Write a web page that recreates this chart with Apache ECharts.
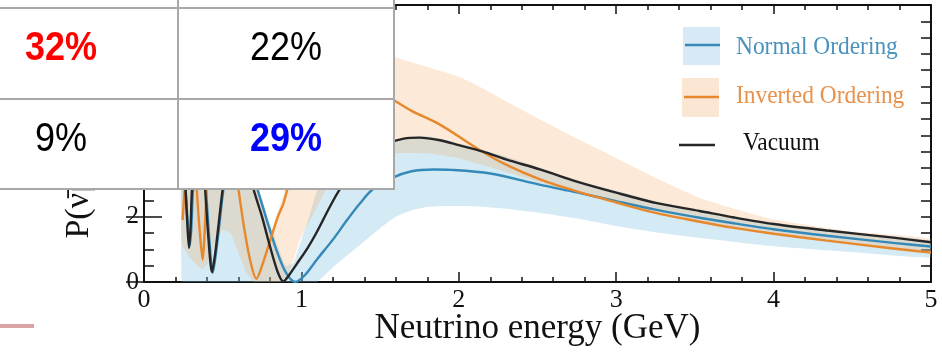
<!DOCTYPE html>
<html>
<head>
<meta charset="utf-8">
<script src="https://cdn.jsdelivr.net/npm/echarts@6/dist/echarts.min.js"></script>
<style>
html, body { margin: 0; padding: 0; background: #ffffff; }
#chart { width: 942px; height: 352px; }
</style>
</head>
<body>
<div id="chart"></div>
<script>
// Appearance probability versus neutrino energy (P in %)

// Vacuum oscillation curve
const vacuumE = [0.25, 0.262, 0.274, 0.286, 0.296, 0.305, 0.325, 0.345, 0.365, 0.388, 0.41, 0.432,
  0.45, 0.47, 0.50, 0.53, 0.57, 0.61, 0.65, 0.695, 0.75, 0.80, 0.85, 0.885,
  0.92, 0.97, 1.04, 1.1, 1.18, 1.245, 1.35, 1.45, 1.55, 1.65, 1.75, 1.88,
  2.0, 2.155, 2.3, 2.52, 2.75, 3.0, 3.25, 3.53, 3.75, 4.0, 4.34, 4.76, 5.0];
const vacuumP = [4.0, 3.0, 1.9, 1.05, 1.7, 2.86, 4.0, 4.4, 4.0, 2.86, 1.3, 0.31,
  0.8, 1.6, 2.86, 3.8, 4.4, 4.4, 3.8, 2.86, 2.0, 1.1, 0.3, 0.02,
  0.2, 0.55, 1.05, 1.55, 2.3, 2.85, 3.5, 3.95, 4.25, 4.4, 4.43, 4.35,
  4.2, 4.0, 3.76, 3.45, 3.08, 2.74, 2.43, 2.18, 1.98, 1.78, 1.58, 1.36, 1.22];

// Normal ordering, central curve
const normalE = [0.25, 0.265, 0.278, 0.29, 0.30, 0.31, 0.33, 0.35, 0.37, 0.393, 0.415, 0.437,
  0.455, 0.475, 0.505, 0.54, 0.58, 0.62, 0.67, 0.72, 0.78, 0.84, 0.90, 0.96,
  1.02, 1.1, 1.2, 1.29, 1.37, 1.45, 1.58, 1.7, 1.84, 1.95, 2.2, 2.52,
  2.75, 3.0, 3.25, 3.53, 3.75, 4.0, 4.34, 4.76, 5.0];
const normalP = [3.6, 2.8, 1.8, 1.1, 1.6, 2.7, 3.9, 4.3, 3.9, 2.86, 1.3, 0.28,
  0.8, 1.6, 2.86, 3.8, 4.3, 4.2, 3.6, 2.86, 1.9, 1.0, 0.3, 0.0,
  0.2, 0.7, 1.3, 1.9, 2.4, 2.83, 3.2, 3.4, 3.45, 3.44, 3.33, 2.98,
  2.75, 2.48, 2.22, 1.97, 1.8, 1.62, 1.42, 1.2, 1.09];

// Inverted ordering, central curve
const invertedE = [0.245, 0.255, 0.265, 0.28, 0.30, 0.32, 0.335, 0.355, 0.373, 0.386, 0.398, 0.42,
  0.45, 0.49, 0.53, 0.57, 0.60, 0.64, 0.68, 0.714, 0.75, 0.80, 0.85, 0.885,
  0.91, 0.96, 1.05, 1.15, 1.25, 1.35, 1.45, 1.58, 1.7, 1.88, 2.13, 2.3,
  2.52, 2.75, 3.0, 3.25, 3.53, 3.75, 4.0, 4.34, 4.76, 5.0];
const invertedP = [1.9, 2.6, 3.5, 4.6, 5.2, 4.3, 2.86, 1.5, 0.68, 1.6, 2.86, 4.5,
  5.6, 5.8, 5.3, 4.0, 2.86, 1.55, 0.55, 0.1, 0.5, 1.25, 2.0, 2.4,
  2.83, 3.7, 4.9, 5.7, 6.1, 6.2, 6.0, 5.6, 5.25, 4.83, 4.06, 3.6,
  3.14, 2.78, 2.44, 2.12, 1.85, 1.66, 1.48, 1.27, 1.03, 0.9];

// Normal ordering uncertainty band
const normalBandE = [0.24, 0.30, 0.40, 0.50, 0.60, 0.64, 0.68, 0.72, 0.76, 0.80, 0.85, 0.90,
  0.95, 1.0, 1.05, 1.1, 1.2, 1.3, 1.4, 1.5, 1.6, 1.7, 1.8, 1.9,
  2.1, 2.3, 2.52, 2.75, 3.0, 3.25, 3.5, 3.75, 4.0, 4.5, 5.0];
const normalBandLow = [0, 0, 0, 0, 0, 0, 0, 0, 0, 0, 0, 0,
  0, 0, 0, 0, 0.45, 0.85, 1.25, 1.65, 2.0, 2.2, 2.3, 2.33,
  2.32, 2.25, 2.12, 1.95, 1.72, 1.53, 1.37, 1.23, 1.1, 0.92, 0.76];
const normalBandHigh = [8.5, 8.5, 8.5, 8.5, 8.5, 8.5, 4.5, 3.0, 2.4, 1.8, 1.1, 0.5,
  0.6, 1.3, 2.0, 2.8, 3.4, 3.75, 4.0, 4.2, 4.35, 4.45, 4.47, 4.38,
  4.12, 3.85, 3.5, 3.12, 2.8, 2.48, 2.22, 2.0, 1.82, 1.52, 1.26];

// Inverted ordering uncertainty band
const invertedBandE = [0.24, 0.30, 0.37, 0.41, 0.45, 0.50, 0.55, 0.60, 0.65, 0.70, 0.74, 0.77,
  0.80, 0.83, 0.86, 0.88, 0.91, 0.95, 1.0, 1.1, 1.16, 1.27, 1.4, 1.58,
  1.8, 2.0, 2.13, 2.3, 2.52, 2.75, 3.0, 3.25, 3.53, 3.75, 4.0, 4.5, 5.0];
const invertedBandLow = [1.2, 0.7, 0.4, 0.6, 1.2, 1.6, 1.5, 0.9, 0.3, 0.0, 0.0, 0.0,
  0.0, 0.0, 0.0, 0.0, 0.2, 0.7, 1.4, 2.3, 2.86, 3.3, 3.7, 3.95,
  3.95, 3.8, 3.62, 3.38, 3.05, 2.72, 2.4, 2.1, 1.82, 1.64, 1.45, 1.15, 0.88];
const invertedBandHigh = [8.5, 8.5, 8.5, 8.5, 8.5, 8.5, 8.5, 8.5, 8.5, 3.3, 2.5, 1.9,
  1.45, 1.85, 2.3, 2.6, 3.1, 8.5, 8.5, 8.5, 8.5, 8.5, 8.0, 6.95,
  6.6, 6.3, 6.0, 5.55, 4.98, 4.4, 3.8, 3.2, 2.58, 2.25, 1.92, 1.55, 1.32];

const legendNames = ['Normal Ordering', 'Inverted Ordering', 'Vacuum'];
const tableValues = ['32%', '22%', '9%', '29%'];
const xAxisTitle = 'Neutrino energy (GeV)';
const yAxisTitle = 'P(\u03BD\u0304\u03BC \u2192 \u03BD\u0304e) (%)';

const SERIF = '"Liberation Serif", "Times New Roman", serif';
const SANS = '"Liberation Sans", Arial, sans-serif';
const INK = '#111111';

function pairs(xs, ys) {
  return xs.map(function (x, i) { return [x, ys[i]]; });
}

// A shaded band between a lower and an upper curve, drawn as one polygon
function band(name, xs, lo, hi, fill) {
  return {
    name: name,
    type: 'custom',
    coordinateSystem: 'cartesian2d',
    xAxisIndex: 0,
    yAxisIndex: 0,
    clip: true,
    silent: true,
    z: 1,
    encode: { x: 0, y: [1, 2] },
    data: xs.map(function (x, i) { return [x, lo[i], hi[i]]; }),
    renderItem: function (params, api) {
      if (params.dataIndexInside !== 0) return null;
      const n = params.dataInsideLength;
      const top = [], bottom = [];
      for (let i = 0; i < n; i++) {
        top.push(api.coord([api.value(0, i), api.value(2, i)]));
        bottom.push(api.coord([api.value(0, i), api.value(1, i)]));
      }
      return {
        type: 'polygon',
        shape: { points: top.concat(bottom.reverse()), smooth: 0.15 },
        style: { fill: fill }
      };
    }
  };
}

function curve(name, xs, ys, color) {
  return {
    name: name,
    type: 'line',
    xAxisIndex: 0,
    yAxisIndex: 0,
    data: pairs(xs, ys),
    smooth: 0.3,
    showSymbol: false,
    symbol: 'none',
    clip: true,
    silent: true,
    z: 3,
    lineStyle: { color: color, width: 2.4 }
  };
}

function frameAxis(extra) {
  const base = {
    type: 'value',
    splitLine: { show: false },
    axisLine: { show: true, onZero: false, lineStyle: { color: INK, width: 2 } },
    axisLabel: { show: false }
  };
  return Object.assign(base, extra);
}

function cellText(text, x, y, color, weight) {
  return {
    type: 'text', x: x, y: y, scaleX: 0.9, z: 102,
    style: {
      text: text, fill: color,
      font: weight + ' 40px ' + SANS,
      textAlign: 'center', textVerticalAlign: 'middle',
      align: 'center', verticalAlign: 'middle'
    }
  };
}

function legendText(text, x, y, color) {
  return {
    type: 'text', x: x, y: y, scaleX: 0.9, z: 102,
    style: {
      text: text, fill: color,
      font: '26px ' + SERIF,
      textAlign: 'left', textVerticalAlign: 'middle',
      align: 'left', verticalAlign: 'middle'
    }
  };
}

function hLine(x1, x2, y, color, w) {
  return { type: 'line', z: 101, shape: { x1: x1, y1: y, x2: x2, y2: y }, style: { stroke: color, lineWidth: w } };
}
function vLine(x, y1, y2, color, w) {
  return { type: 'line', z: 101, shape: { x1: x, y1: y1, x2: x, y2: y2 }, style: { stroke: color, lineWidth: w } };
}

const BLUE_LINE = '#3489b8';
const ORANGE_LINE = '#e8882c';
const BLACK_LINE = '#262626';
const TABLE_RULE = '#a8a8a8';

const chart = echarts.init(document.getElementById('chart'), null, { renderer: 'canvas' });

chart.setOption({
  backgroundColor: '#ffffff',
  animation: false,
  grid: [
    { left: 144, right: 11, top: 5, bottom: 70, containLabel: false, outerBoundsMode: 'none' },
    { left: 144, right: 11, top: 5, bottom: 70, containLabel: false, outerBoundsMode: 'none' }
  ],
  xAxis: [
    frameAxis({
      gridIndex: 0, position: 'bottom', min: 0, max: 5, interval: 1,
      axisTick: { show: true, inside: true, length: 10, lineStyle: { color: INK, width: 1.5 } },
      minorTick: { show: true, splitNumber: 5, length: 5, lineStyle: { color: INK, width: 1.5 } },
      axisLabel: { show: true, margin: 5, color: INK, fontFamily: SERIF, fontSize: 26 },
      name: xAxisTitle, nameLocation: 'middle', nameGap: 29, nameMoveOverlap: false,
      nameTextStyle: { fontFamily: SERIF, fontSize: 35, color: INK }
    }),
    frameAxis({
      gridIndex: 1, position: 'top', min: 0, max: 5, interval: 1,
      axisTick: { show: true, inside: true, length: 9, lineStyle: { color: INK, width: 1.5 } },
      minorTick: { show: true, splitNumber: 5, length: 5, lineStyle: { color: INK, width: 1.5 } }
    })
  ],
  yAxis: [
    frameAxis({
      gridIndex: 0, position: 'left', min: 0, max: 8.5, interval: 2,
      axisTick: { show: true, inside: true, length: 18, lineStyle: { color: INK, width: 1.5 } },
      minorTick: { show: true, splitNumber: 4, length: 10, lineStyle: { color: INK, width: 1.5 } },
      axisLabel: { show: true, margin: 5, color: INK, fontFamily: SERIF, fontSize: 25, showMaxLabel: false },
      name: yAxisTitle, nameLocation: 'middle', nameGap: 48, nameMoveOverlap: false,
      nameTextStyle: { fontFamily: SERIF, fontSize: 34, color: INK, padding: [0, 0, 0, 26] }
    }),
    frameAxis({
      gridIndex: 0, position: 'right', min: 0, max: 8.5, interval: 0.5,
      axisTick: { show: true, inside: true, length: 10, lineStyle: { color: INK, width: 1.5 } }
    }),
    frameAxis({
      gridIndex: 1, position: 'right', min: 0, max: 8.5, interval: 2,
      axisLine: { show: false },
      axisTick: { show: true, inside: true, length: 18, lineStyle: { color: INK, width: 1.5 } }
    })
  ],
  series: [
    band(legendNames[0], normalBandE, normalBandLow, normalBandHigh, 'rgba(122,190,222,0.32)'),
    band(legendNames[1], invertedBandE, invertedBandLow, invertedBandHigh, 'rgba(245,168,96,0.25)'),
    curve(legendNames[0], normalE, normalP, BLUE_LINE),
    curve(legendNames[1], invertedE, invertedP, ORANGE_LINE),
    curve(legendNames[2], vacuumE, vacuumP, BLACK_LINE)
  ],
  graphic: [
    // legend keys
    { type: 'rect', z: 100, shape: { x: 683, y: 27, width: 37, height: 38 }, style: { fill: '#d7e9f4' } },
    hLine(685, 720, 45, BLUE_LINE, 2.5),
    legendText(legendNames[0], 736, 47, '#4a92bd'),
    { type: 'rect', z: 100, shape: { x: 682, y: 78, width: 37, height: 39 }, style: { fill: '#fbe6d3' } },
    hLine(684, 719, 97, ORANGE_LINE, 2.5),
    legendText(legendNames[1], 736, 96, '#e8914a'),
    hLine(679, 715, 145, BLACK_LINE, 2.5),
    legendText(legendNames[2], 743, 143, INK),

    // summary table laid over the upper-left corner
    { type: 'rect', z: 100, shape: { x: -4, y: -4, width: 398, height: 193 }, style: { fill: '#ffffff' } },
    hLine(-2, 395, 8, TABLE_RULE, 2),
    hLine(-2, 395, 99, TABLE_RULE, 2),
    hLine(-2, 395, 189, TABLE_RULE, 2),
    vLine(178, -2, 190, TABLE_RULE, 2),
    vLine(394, -2, 190, TABLE_RULE, 2),
    cellText(tableValues[0], 61, 49, '#ff0000', 'bold'),
    cellText(tableValues[1], 286, 49, '#000000', 'normal'),
    cellText(tableValues[2], 61, 140, '#000000', 'normal'),
    cellText(tableValues[3], 286, 140, '#0000ff', 'bold'),

    // short rule at the lower left edge
    hLine(0, 34, 326, '#dba4a4', 4)
  ]
});
</script>
</body>
</html>
